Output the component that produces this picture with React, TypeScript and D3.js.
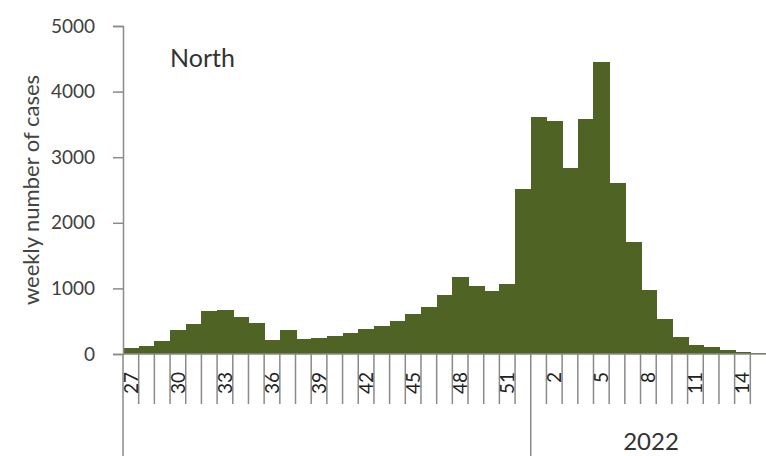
import React, { useEffect, useRef } from "react";
import * as d3 from "d3";

// weeks shown on the x axis (2021 wk 27-52, then 2022 wk 1-15)
const weeks2021 = d3.range(27, 53).map(String);
const weeks2022 = d3.range(1, 16).map(String);
const weekLabels = [...weeks2021, ...weeks2022];

// weekly number of cases, North
const cases2021 = [
  95, 120, 200, 365, 460, 660, 670, 560, 470, 220, 360, 235, 250, 280, 325, 376,
  430, 508, 605, 720, 900, 1170, 1030, 960, 1060, 2510,
];
const cases2022 = [3620, 3550, 2840, 3580, 4450, 2600, 1700, 975, 540, 255, 130, 100, 65, 38, 20];
const cases = [...cases2021, ...cases2022];

const shownLabels = ["27", "30", "33", "36", "39", "42", "45", "48", "51", "2", "5", "8", "11", "14"];
const yTicks = [0, 1000, 2000, 3000, 4000, 5000];
const yearLabel = "2022";

const App: React.FC = () => {
  const svgRef = useRef<SVGSVGElement>(null);

  useEffect(() => {
    if (!svgRef.current) return;
    const svg = d3.select(svgRef.current);
    svg.selectAll("*").remove();

    const width = 766;
    const height = 456;
    const left = 123;
    const top = 26;
    const bottom = 354;
    const font = "Lato, 'Open Sans', sans-serif";
    const axisColor = "#8a8a8a";

    const keys = weekLabels.map((w, i) => `${i}-${w}`);
    const x = d3.scaleBand<string>().domain(keys).range([left, width]).padding(0);
    const y = d3.scaleLinear().domain([0, 5000]).range([bottom, top]);

    // bars
    svg
      .append("g")
      .attr("shape-rendering", "crispEdges")
      .selectAll("rect")
      .data(cases)
      .join("rect")
      .attr("x", (_, i) => x(keys[i]) as number)
      .attr("width", x.bandwidth() + 1)
      .attr("y", (d) => y(d))
      .attr("height", (d) => bottom - y(d))
      .attr("fill", "#4f6424");

    // y axis
    const yAxis = svg
      .append("g")
      .attr("transform", `translate(${left},0)`)
      .call(d3.axisLeft(y).tickValues(yTicks).tickSize(10).tickPadding(18).tickFormat(d3.format("d")));
    yAxis.select(".domain").attr("stroke", axisColor).attr("stroke-width", 1.5);
    yAxis.selectAll(".tick line").attr("stroke", axisColor).attr("stroke-width", 1.5);
    yAxis
      .selectAll(".tick text")
      .attr("font-family", font)
      .attr("font-size", 19)
      .attr("fill", "#404040");

    // axis line continues down through the category area
    svg
      .append("line")
      .attr("x1", left)
      .attr("x2", left)
      .attr("y1", bottom)
      .attr("y2", height)
      .attr("stroke", axisColor)
      .attr("stroke-width", 1.5);

    // x axis baseline
    svg
      .append("line")
      .attr("x1", left)
      .attr("x2", width)
      .attr("y1", bottom)
      .attr("y2", bottom)
      .attr("stroke", axisColor)
      .attr("stroke-width", 1.5);

    // tick marks between weeks
    const g = svg.append("g");
    keys.forEach((k, i) => {
      if (i === 0) return;
      const xx = x(k) as number;
      const isYear = i === weeks2021.length;
      g.append("line")
        .attr("x1", xx)
        .attr("x2", xx)
        .attr("y1", bottom)
        .attr("y2", isYear ? height : 404)
        .attr("stroke", axisColor)
        .attr("stroke-width", 1.5);
    });

    // week labels (rotated)
    keys.forEach((k, i) => {
      if (!shownLabels.includes(weekLabels[i])) return;
      const cx = (x(k) as number) + x.bandwidth() / 2;
      svg
        .append("text")
        .attr("transform", `translate(${cx + 7},372) rotate(-90)`)
        .attr("text-anchor", "end")
        .attr("font-family", font)
        .attr("font-size", 19)
        .attr("fill", "#222")
        .text(weekLabels[i]);
    });

    // year label
    svg
      .append("text")
      .attr("x", 651)
      .attr("y", 450)
      .attr("text-anchor", "middle")
      .attr("font-family", font)
      .attr("font-size", 24)
      .attr("fill", "#333")
      .text(yearLabel);

    // y axis title
    svg
      .append("text")
      .attr("transform", `translate(39,190) rotate(-90)`)
      .attr("text-anchor", "middle")
      .attr("font-family", font)
      .attr("font-size", 22)
      .attr("fill", "#444")
      .text("weekly number of cases");

    // panel title
    svg
      .append("text")
      .attr("x", 170)
      .attr("y", 67)
      .attr("font-family", font)
      .attr("font-size", 25)
      .attr("fill", "#333")
      .text("North");
  }, []);

  return (
    <svg
      ref={svgRef}
      width={766}
      height={456}
      style={{ position: "absolute", left: 0, top: 0, background: "#fff" }}
    ></svg>
  );
};

export default App;
